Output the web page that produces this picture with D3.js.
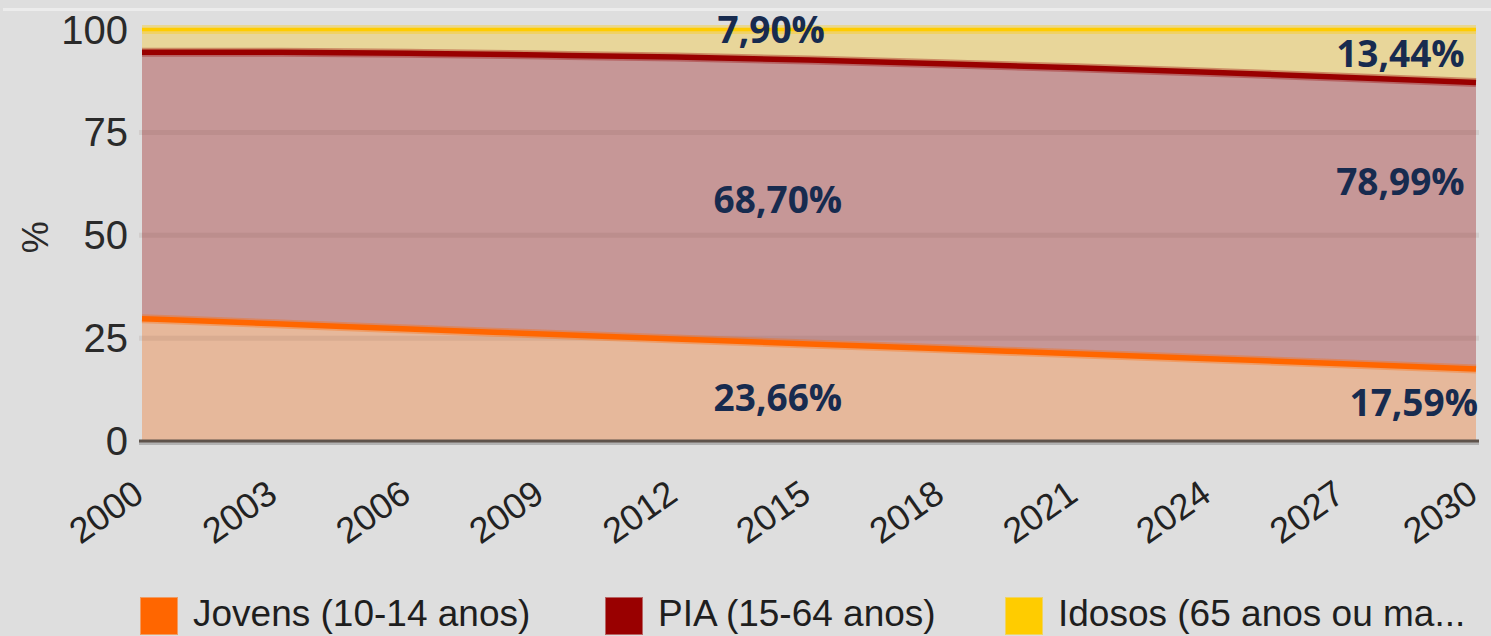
<!DOCTYPE html>
<html>
<head>
<meta charset="utf-8">
<script src="https://cdn.jsdelivr.net/npm/d3@7"></script>
<style>
	body { margin: 0; background: #dedede; }
	svg { display: block; }
</style>
</head>
<body>
<svg id="chart" width="1491" height="636"></svg>
<script>
// values (% of population)
let years = [2000, 2003, 2006, 2009, 2012, 2015, 2018, 2021, 2024, 2027, 2030];
let jovens = [29.7, 28.5, 27.2, 26.0, 24.8, 23.6, 22.4, 21.2, 20.0, 18.8, 17.5];
let pia = [64.8, 66.0, 67.0, 67.8, 68.5, 69.0, 69.3, 69.5, 69.6, 69.6, 69.6];
let idosos = [5.5, 5.5, 5.8, 6.2, 6.7, 7.4, 8.3, 9.3, 10.4, 11.6, 12.9];
let seriesNames = ["Jovens (10-14 anos)", "PIA (15-64 anos)", "Idosos (65 anos ou ma..."];
let yTicks = [0, 25, 50, 75, 100];
let valueLabels = ["23,66%", "68,70%", "7,90%", "17,59%", "78,99%", "13,44%"];

let lineColors = ["#ff6600", "#990000", "#ffcc00"];
let fillColors = ["#e6b89b", "#c69797", "#e8d69a"];

let keys = ["jovens", "pia", "idosos"];
let data = years.map((yr, k) => ({year: yr, jovens: jovens[k], pia: pia[k], idosos: idosos[k]}));

let svg = d3.select("#chart");
let width = 1491, height = 636;
let margin = {top: 29.5, right: 15, bottom: 195, left: 142};

let x = d3.scaleLinear()
	.domain([2000, 2030])
	.range([margin.left, width - margin.right]);
let y = d3.scaleLinear()
	.domain([0, 100])
	.range([height - margin.bottom, margin.top]);

// thin light rule along the top
svg.append("line")
	.attr("x1", 3).attr("x2", width)
	.attr("y1", 9.5).attr("y2", 9.5)
	.attr("stroke", "#ececec")
	.attr("stroke-width", 3);

let stacked = d3.stack().keys(keys)(data);

let area = d3.area()
	.x(d => x(d.data.year))
	.y0(d => y(d[0]))
	.y1(d => y(d[1]))
	.curve(d3.curveMonotoneX);
let line = d3.line()
	.x(d => x(d.data.year))
	.y(d => y(d[1]))
	.curve(d3.curveMonotoneX);

svg.append("g")
	.selectAll("path")
	.data(stacked)
	.join("path")
	.attr("d", area)
	.attr("fill", (d, i) => fillColors[i]);

// grid
svg.append("g")
	.selectAll("line")
	.data(yTicks.filter(t => t > 0 && t < 100))
	.join("line")
	.attr("x1", x(2000) - 3).attr("x2", x(2030) + 3)
	.attr("y1", d => y(d)).attr("y2", d => y(d))
	.attr("stroke", "rgba(110,70,60,0.10)")
	.attr("stroke-width", 5);

// soft halo then line for each series
let lines = svg.append("g");
stacked.forEach((s, i) => {
	lines.append("path")
		.attr("d", line(s))
		.attr("fill", "none")
		.attr("stroke", lineColors[i])
		.attr("stroke-opacity", 0.35)
		.attr("stroke-width", i == 2 ? 9 : 9);
	lines.append("path")
		.attr("d", line(s))
		.attr("fill", "none")
		.attr("stroke", lineColors[i])
		.attr("stroke-width", i == 2 ? 3.5 : 5.5);
});

// zero line
svg.append("line")
	.attr("x1", x(2000) - 3).attr("x2", x(2030) + 3)
	.attr("y1", y(0) + 2.5).attr("y2", y(0) + 2.5)
	.attr("stroke", "#b2b2b2")
	.attr("stroke-width", 3);
svg.append("line")
	.attr("x1", x(2000) - 3).attr("x2", x(2030) + 3)
	.attr("y1", y(0)).attr("y2", y(0))
	.attr("stroke", "#5e534b")
	.attr("stroke-width", 3);

// y axis labels
svg.append("g")
	.selectAll("text")
	.data(yTicks)
	.join("text")
	.attr("x", margin.left - 14)
	.attr("y", d => y(d) + 14)
	.attr("text-anchor", "end")
	.attr("font-family", "Liberation Sans, Arial, sans-serif")
	.attr("font-size", 40)
	.attr("fill", "#2a2a2a")
	.text(d => d);

svg.append("text")
	.attr("transform", `translate(48,${y(50) + 2}) rotate(-90)`)
	.attr("text-anchor", "middle")
	.attr("font-family", "Liberation Sans, Arial, sans-serif")
	.attr("font-size", 36)
	.attr("fill", "#2a2a2a")
	.text("%");

// x axis labels
svg.append("g")
	.selectAll("text")
	.data(years)
	.join("text")
	.attr("transform", d => `translate(${x(d) + 4},${y(0) + 58}) rotate(-35)`)
	.attr("text-anchor", "end")
	.attr("font-family", "Liberation Sans, Arial, sans-serif")
	.attr("font-size", 36)
	.attr("fill", "#222")
	.text(d => d);

// value annotations
let annot = [[2014.3, 7.3], [2014.3, 55.5], [2014.15, 96.8], [2028.6, 6.1], [2028.3, 59.9], [2028.3, 91.0]];
svg.append("g")
	.selectAll("text")
	.data(valueLabels)
	.join("text")
	.attr("x", (d, i) => x(annot[i][0]))
	.attr("y", (d, i) => y(annot[i][1]))
	.attr("text-anchor", "middle")
	.attr("font-family", "Open Sans, sans-serif")
	.attr("font-weight", "bold")
	.attr("font-size", 37)
	.attr("fill", "#172b4f")
	.text(d => d);

// legend
let legendX = [140, 605, 1005];
let legend = svg.append("g")
	.selectAll("g")
	.data(seriesNames)
	.join("g")
	.attr("transform", (d, i) => `translate(${legendX[i]},597)`);
legend.append("rect")
	.attr("x", 1).attr("y", 1)
	.attr("width", 36).attr("height", 36)
	.attr("fill", (d, i) => lineColors[i])
	.attr("stroke", (d, i) => lineColors[i])
	.attr("stroke-opacity", 0.55)
	.attr("stroke-width", 2);
legend.append("text")
	.attr("x", 53)
	.attr("y", 29)
	.attr("font-family", "Liberation Sans, Arial, sans-serif")
	.attr("font-size", 37)
	.attr("fill", "#1e1e1e")
	.text(d => d);
</script>
</body>
</html>
